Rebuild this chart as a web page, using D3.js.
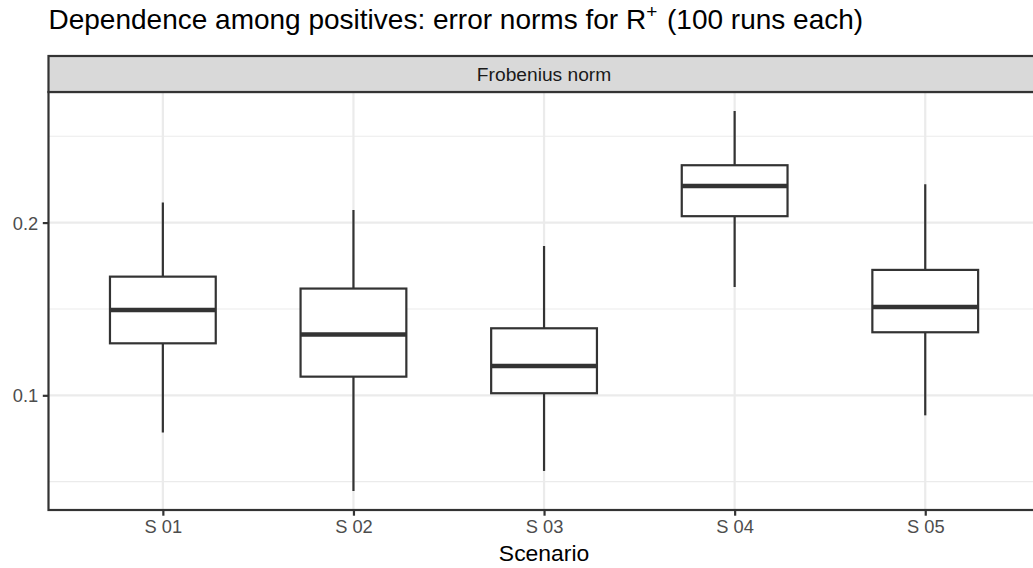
<!DOCTYPE html>
<html>
<head>
<meta charset="utf-8">
<script src="https://cdn.jsdelivr.net/npm/d3@7"></script>
<style>
  html, body { margin: 0; padding: 0; background: #fff; }
  svg { display: block; font-family: "Liberation Sans", Arial, Helvetica, sans-serif; }
</style>
</head>
<body>
<svg id="chart" width="1033" height="568"></svg>
<script>
// ---- data ----
const categories = ["S 01", "S 02", "S 03", "S 04", "S 05"];
const whiskerLow = [0.0784, 0.0446, 0.0562, 0.1627, 0.0884];
const q1         = [0.1301, 0.1108, 0.1012, 0.2037, 0.1365];
const medians    = [0.1494, 0.1352, 0.1170, 0.2212, 0.1511];
const q3         = [0.1687, 0.1618, 0.1388, 0.2332, 0.1726];
const whiskerHigh= [0.2116, 0.2073, 0.1865, 0.2646, 0.2222];
const yMajorTicks = [0.1, 0.2];
const yTickLabels = ["0.1", "0.2"];
const yMinorTicks = [0.05, 0.15, 0.25];
const titleMain = "Dependence among positives: error norms for R";
const titleSup = "+";
const titleTail = " (100 runs each)";
const stripLabel = "Frobenius norm";
const xTitle = "Scenario";

const rows = categories.map((c, i) => ({
  cat: c, lo: whiskerLow[i], q1: q1[i], med: medians[i], q3: q3[i], hi: whiskerHigh[i]
}));

// ---- layout ----
const panel = { left: 48.5, right: 1039.6, top: 92, bottom: 510 };
const strip = { top: 56, bottom: 92 };
const svg = d3.select("#chart");

// x: discrete positions with 0.6 expansion each side
const unit = (panel.right - panel.left) / (categories.length - 1 + 1.2);
const x = d3.scalePoint().domain(categories)
  .range([panel.left + 0.6 * unit, panel.right - 0.6 * unit]);
const boxW = 0.555 * unit;

const yMin = d3.min(whiskerLow), yMax = d3.max(whiskerHigh);
const pad = (yMax - yMin) * 0.05;
const y = d3.scaleLinear().domain([yMin - pad, yMax + pad]).range([panel.bottom, panel.top]);

svg.append("defs").append("clipPath").attr("id", "pclip")
  .append("rect").attr("x", panel.left).attr("y", panel.top)
  .attr("width", panel.right - panel.left).attr("height", panel.bottom - panel.top);

const g = svg.append("g").attr("clip-path", "url(#pclip)");
g.append("rect").attr("x", panel.left).attr("y", panel.top)
  .attr("width", panel.right - panel.left).attr("height", panel.bottom - panel.top)
  .attr("fill", "#fff");

// minor grid
g.selectAll("line.minor").data(yMinorTicks).join("line")
  .attr("x1", panel.left).attr("x2", panel.right)
  .attr("y1", d => y(d)).attr("y2", d => y(d))
  .attr("stroke", "#EBEBEB").attr("stroke-width", 1.1);
// major grid
g.selectAll("line.major").data(yMajorTicks).join("line")
  .attr("x1", panel.left).attr("x2", panel.right)
  .attr("y1", d => y(d)).attr("y2", d => y(d))
  .attr("stroke", "#EBEBEB").attr("stroke-width", 2.2);
g.selectAll("line.vgrid").data(categories).join("line")
  .attr("x1", d => x(d)).attr("x2", d => x(d))
  .attr("y1", panel.top).attr("y2", panel.bottom)
  .attr("stroke", "#EBEBEB").attr("stroke-width", 2.2);

// boxes
const col = "#333333";
const bx = g.selectAll("g.box").data(rows).join("g");
bx.append("line")
  .attr("x1", d => x(d.cat)).attr("x2", d => x(d.cat))
  .attr("y1", d => y(d.hi)).attr("y2", d => y(d.q3))
  .attr("stroke", col).attr("stroke-width", 2.2);
bx.append("line")
  .attr("x1", d => x(d.cat)).attr("x2", d => x(d.cat))
  .attr("y1", d => y(d.q1)).attr("y2", d => y(d.lo))
  .attr("stroke", col).attr("stroke-width", 2.2);
bx.append("rect")
  .attr("x", d => x(d.cat) - boxW / 2).attr("width", boxW)
  .attr("y", d => y(d.q3)).attr("height", d => y(d.q1) - y(d.q3))
  .attr("fill", "#fff").attr("stroke", col).attr("stroke-width", 2.2);
bx.append("line")
  .attr("x1", d => x(d.cat) - boxW / 2).attr("x2", d => x(d.cat) + boxW / 2)
  .attr("y1", d => y(d.med)).attr("y2", d => y(d.med))
  .attr("stroke", col).attr("stroke-width", 4.4);

// panel border
svg.append("rect").attr("x", panel.left).attr("y", panel.top)
  .attr("width", panel.right - panel.left).attr("height", panel.bottom - panel.top)
  .attr("fill", "none").attr("stroke", col).attr("stroke-width", 2.2);

// strip
svg.append("rect").attr("x", panel.left).attr("y", strip.top)
  .attr("width", panel.right - panel.left).attr("height", strip.bottom - strip.top)
  .attr("fill", "#D9D9D9").attr("stroke", col).attr("stroke-width", 2.2);
svg.append("text").attr("x", (panel.left + panel.right) / 2).attr("y", (strip.top + strip.bottom) / 2 + 7)
  .attr("text-anchor", "middle").attr("font-size", 19.2).attr("fill", "#1A1A1A")
  .text(stripLabel);

// axes
const xAxis = d3.axisBottom(x).tickSize(5.7).tickPadding(4.6);
const xa = svg.append("g").attr("transform", `translate(0,${panel.bottom})`).call(xAxis);
xa.select(".domain").remove();
xa.selectAll(".tick line").attr("stroke", col).attr("stroke-width", 2.2);
xa.selectAll(".tick text").attr("font-size", 18.3).attr("fill", "#4D4D4D")
  .attr("font-family", "Liberation Sans, Arial, sans-serif").attr("dy", "0.71em");

const yAxis = d3.axisLeft(y).tickValues(yMajorTicks)
  .tickFormat((d, i) => yTickLabels[i]).tickSize(5.7).tickPadding(4.6);
const ya = svg.append("g").attr("transform", `translate(${panel.left},0)`).call(yAxis);
ya.select(".domain").remove();
ya.selectAll(".tick line").attr("stroke", col).attr("stroke-width", 2.2);
ya.selectAll(".tick text").attr("font-size", 18.3).attr("fill", "#4D4D4D")
  .attr("font-family", "Liberation Sans, Arial, sans-serif").attr("dy", "0.36em");

// axis title
svg.append("text").attr("x", (panel.left + panel.right) / 2).attr("y", 561)
  .attr("text-anchor", "middle").attr("font-size", 22.9).attr("fill", "#000")
  .text(xTitle);

// title
const t = svg.append("text").attr("x", panel.left).attr("y", 29)
  .attr("font-size", 28).attr("fill", "#000");
t.append("tspan").text(titleMain);
t.append("tspan").attr("font-size", 19).attr("dy", -11).text(titleSup);
t.append("tspan").attr("dy", 11).attr("dx", 2).text(titleTail);
</script>
</body>
</html>
